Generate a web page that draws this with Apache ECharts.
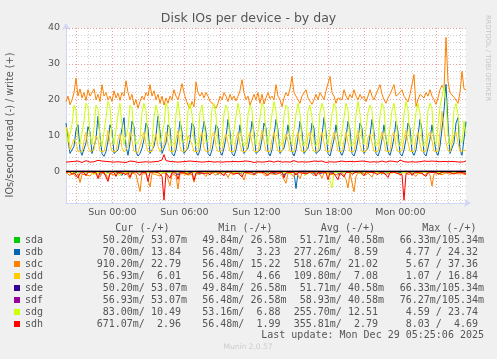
<!DOCTYPE html>
<html><head><meta charset="utf-8">
<script src="https://cdn.jsdelivr.net/npm/echarts@6/dist/echarts.min.js"></script>
<style>html,body{margin:0;padding:0;background:#f0f0f0}#c{width:497px;height:359px}</style>
</head><body><div id="c"></div>
<script>
// ---------- DATA ----------
const devices = ['sda','sdb','sdc','sdd','sde','sdf','sdg','sdh'];
const colors  = ['#00CC00','#0066B3','#FF8000','#FFCC00','#330099','#990099','#CCFF00','#FF0000'];
const startMin = -232;      // minutes relative to Sun 00:00 (Sat 20:08)
const endMin = 1768;        // Mon 05:28
const stepMin = 10;         // fine series sample step
const coarseStep = 100;     // near-zero series sample step
const xLabelValues = [0, 360, 720, 1080, 1440];
const xLabelTexts  = ['Sun 00:00','Sun 06:00','Sun 12:00','Sun 18:00','Mon 00:00'];
const yLabelValues = [0, 10, 20, 30, 40];

const sdcWrite = [19.5,21,18.6,20,22,26,21,23,20.5,22,
19.8,22.8,21,20.9,23,20,21.5,19.5,24.2,21,
22,20,21,19.5,22.5,20.5,21.8,19.8,22,21,
25.3,22,20,21.5,18.5,20,17.6,19.5,21,20,
22,21,24.2,21,22.5,20,21.5,19,21,18.5,
20.5,19,21,20,22.8,21,20,22,24.5,22,
20,18.5,17.6,19.5,18,25,22,21,22,20.5,
22,21,19.5,20,18.5,17.6,19,21,20,22,
21,19.5,21.5,20,21,19.7,21,22.5,25.6,22,
20,21,18.5,20,21.5,20,22,19,21.5,18.8,
20.5,22,20.3,21,20,24.2,21,20,18.1,20.5,
22,21,23,26.5,22,21,20,19,21,20.5,
22.8,20.5,21,18.7,20,21.5,20,22,21.7,20,
22.5,23,26.5,22,21,19,20.5,21,20,22.8,
21,20,21.5,20.5,22.8,21,20,21.5,20.3,21,
19.5,21,22.8,21,20,21.5,22,24.2,21.5,20,
19,20.5,21.5,22,24.2,21,20.5,22,22.8,21,
20.5,19.4,21.5,22,27,18.1,20,21.5,21.7,20.5,
22,21,22.8,21,20,18.7,20.5,22.8,24,23,
37.4,25,22,21.5,20.7,21,19,22,27.9,23,
22.79];
const sdgWrite = [12,8,7.5,13,18.5,17,9,7.5,7,14,
19,18,10,7.5,12,18.5,17.5,9,7,7.5,
15,19.5,18,9.5,7.5,8,16,19,13,7.5,
7,12,18.5,17.5,10,7.5,7,9,16.5,19,
17,8.5,7,8,15,18.5,16,8,7.5,13,
19,17.5,9,7,8,16,19.5,15,8,7.5,
9,17,19,16,8.5,7,8,16.5,18.5,14,
8,7.5,9.5,17.5,19,15.5,8,7,9,16,
18.5,17,9,7.5,8,15.5,19,16,8.5,7,
8,16,18.5,17,9,7.5,7.5,15,19,18,
10,7.5,8,16,19.5,17,9,7,8,15.5,
18.5,17.5,9,7.5,7.5,16,19,16,8.5,7,
8.5,17,18.5,15,8,7,9,16.5,19,17,
9,7.5,8,16,19,17.5,9.5,7,7.5,15,
19,17,8.5,7,8,16,19.5,16,9,7.5,
8,16.5,18.5,17,9,7,8,15.5,19,17.5,
9,7.5,8,17,19,15,8,7,9,16,
19.5,17,9,7.5,8,16.5,19,16,8.5,7,
8.5,17,19,17.5,9,7.5,8,18,21,23.7,
20,10,7.5,9,17,19,16,9,8,14,
10.49];
const sdbWrite = [13.5,9,5,4.5,7,11.5,13,6,4.5,5,
8,12.5,11,5,4.5,9,15.4,10,5,4.2,
5.5,8.5,13,11.5,5,4.5,6,9,12,15,
7,4.5,8,14,12.5,5.5,4.3,5,6.5,9,
13.5,12,5,4.5,7,10,15.5,11,5,4.5,
8,13,12,5,4.3,6,9.5,14,11,5,
4.5,6.5,9,13.5,12.5,5.5,4.5,6,10,14,
11,5,4.3,6,9,13,12,5.5,4.5,6.5,
9.5,14.5,11,5,4.3,6,9,13,12.5,5,
4.5,6.5,9.5,14,11,5,4.5,6,9,13.5,
12,5.5,4.3,6,10,14.5,11.5,5,4.5,6.5,
9,13,12.5,5.5,4.3,6,9.5,14,11,5,
4.5,6.5,9,13.5,12,5,4.5,6,10,15,
11,5,4.3,6.5,9,13,12.5,5.5,4.5,6,
9.5,14,11.5,5,4.3,6,9,13.5,12,5,
4.5,6.5,10,14.5,11,5,4.3,6,9,13,
12.5,5.5,4.5,6.5,9.5,14,11,5,4.3,6,
9,13.5,12,5.5,4.5,6,10,14.5,11.5,5,
4.3,6.5,9,13,12.5,5.5,4.5,7,12,17,
24.3,13,5,4.5,8,13.5,15,6,4.5,9,
13.84];
const sddWrite = [12.5,11,6,5.6,9,8,5.5,5.3,5.5,8.5,
11,7,5.5,5.4,6,10,9,5.6,5.3,5.5,
8,11.5,8,5.6,5.4,5.5,9,10.5,6.5,5.4,
5.3,7,11,8.5,5.6,5.4,5.3,5.8,9,11,
7.5,5.5,5.3,5.6,8.5,10.5,7,5.5,5.4,7.5,
11,8,5.6,5.3,5.5,9,11.5,7,5.5,5.4,
5.8,10,10.5,7.5,5.5,5.3,5.6,9.5,11,6.5,
5.5,5.4,6,10,11,7,5.5,5.3,5.8,9,
10.5,8,5.6,5.4,5.5,9,11,7.5,5.5,5.3,
5.6,9.5,11,8,5.6,5.4,5.5,8.5,11.5,8.5,
5.7,5.4,5.5,9,11,8,5.6,5.3,5.6,9,
10.5,8.5,5.6,5.4,5.5,9.5,11,7.5,5.5,5.3,
5.7,10,11,7,5.5,5.3,5.8,9.5,11,8,
5.6,5.4,5.6,9,11,8.5,5.7,5.3,5.5,8.5,
11,8,5.5,5.3,5.6,9,11.5,7.5,5.6,5.4,
5.6,9.5,10.5,8,5.6,5.3,5.6,9,11,8.5,
5.6,5.4,5.6,10,11,7,5.5,5.3,5.8,9,
11.5,8,5.6,5.4,5.6,9.5,11,7.5,5.5,5.3,
5.7,10,11,8.5,5.6,5.4,5.6,11,16.8,12,
8,6,5.4,5.6,10,11,8,5.6,5.4,5.8,
6.01];
const sdhWrite = [2.6,2.4,2.7,2.5,2.8,2.6,2.9,2.7,2.5,2.8,
3.0,2.7,2.6,2.9,2.7,2.8,3.1,2.7,2.9,2.6,
2.8,3.0,2.7,2.9,2.6,2.8,2.7,2.9,2.6,2.8,
2.5,2.7,2.9,2.6,2.8,2.7,2.5,2.8,2.6,2.9,
2.7,2.8,2.6,2.9,2.7,2.5,2.8,2.6,3.2,4.7,
3.0,2.6,2.8,2.5,2.7,2.9,2.6,2.8,2.7,2.5,
2.8,2.6,2.9,2.7,2.8,2.6,2.7,2.9,2.6,2.8,
2.7,2.5,2.8,2.9,2.6,2.8,2.7,2.9,2.6,2.8,
2.7,3.0,2.7,2.6,2.8,2.9,2.7,2.6,2.8,2.7,
2.9,2.6,2.8,2.7,2.5,2.8,2.7,2.9,2.6,2.8,
2.7,2.6,2.9,2.8,2.6,2.7,2.9,2.8,2.6,2.8,
2.7,2.9,2.6,2.8,3.0,2.7,2.6,2.8,2.7,2.9,
2.6,2.8,2.7,2.6,2.9,2.7,2.8,2.6,2.9,2.7,
2.5,2.8,2.7,2.9,2.6,2.8,2.7,2.6,2.9,2.8,
2.7,2.6,2.8,2.9,2.7,2.6,2.8,2.7,2.9,2.6,
2.8,2.7,2.6,2.9,2.7,2.8,2.6,2.7,2.9,2.8,
2.6,2.7,2.9,2.6,2.8,2.7,2.6,3.2,3.6,2.7,
2.9,2.6,2.8,2.7,2.9,2.6,2.8,2.7,2.6,2.9,
2.7,2.8,2.6,2.9,2.7,2.8,2.6,2.7,2.9,2.8,
2.6,2.7,2.5,2.8,2.6,2.7,2.9,2.6,2.8,2.7,
2.96];
const sdcRead = [0.3,0.5,1.2,0.4,0.8,1.5,0.6,3.1,0.8,0.3,
0.9,0.4,1.3,0.5,0.3,0.7,0.4,1.6,0.5,0.3,
0.8,2.2,0.6,0.4,1.0,1.5,0.4,0.3,0.6,0.9,
0.4,1.2,2.0,0.5,0.3,0.8,1.1,5.6,0.7,0.4,
0.6,1.0,4.3,0.6,0.3,0.9,0.4,1.3,0.5,0.7,
0.4,0.8,4.0,0.6,0.3,1.2,4.9,0.7,0.4,0.6,
0.3,1.0,0.5,0.8,3.0,0.6,0.4,0.9,0.3,0.5,
1.4,0.4,0.7,0.3,0.6,1.1,0.4,0.5,0.8,0.3,
0.6,1.7,0.5,0.4,0.9,0.3,0.6,0.4,1.2,2.4,
0.5,0.3,0.7,0.4,1.0,0.5,0.3,0.8,0.4,0.6,
1.3,0.5,0.4,0.7,0.3,0.9,0.5,0.4,1.1,0.6,
3.3,0.5,0.4,0.8,1.5,0.3,0.6,2.0,0.4,0.7,
0.5,0.9,0.3,0.6,1.2,0.4,0.5,0.8,1.9,0.4,
0.6,0.3,0.9,0.5,0.7,0.4,1.0,0.6,0.3,0.8,
2.2,4.6,0.5,0.9,5.67,1.4,0.4,0.7,0.3,0.6,
1.0,0.4,0.5,1.6,0.3,0.7,0.4,0.9,0.5,0.3,
0.8,1.3,0.4,0.6,0.3,0.7,0.5,1.1,0.4,0.6,
0.3,0.9,0.5,0.4,0.8,1.4,0.6,0.3,0.5,1.2,
0.7,0.4,1.0,4.1,0.7,0.4,0.6,0.3,0.9,0.5,
0.4,0.6,0.8,0.3,0.5,0.4,0.7,0.5,0.6,0.9,
0.91];
const sdhRead = [0.2,0.4,0.1,0.9,0.3,0.2,1.8,0.5,0.2,0.3,
1.2,0.2,0.4,0.1,0.6,0.3,2.0,0.2,0.4,0.3,
0.2,2.8,0.5,0.2,0.3,1.4,0.2,0.1,0.4,0.2,
0.9,0.3,1.6,0.2,0.4,0.1,0.3,1.1,0.2,0.5,
0.3,2.8,0.2,0.4,0.1,0.6,0.3,0.2,1.3,8.0,
0.4,0.2,1.9,0.3,0.2,0.5,2.2,0.3,0.1,0.4,
0.2,0.8,0.3,0.2,2.5,0.4,0.2,0.3,0.1,0.6,
0.2,0.4,1.0,0.2,0.3,0.1,0.5,0.2,0.3,1.2,
0.2,0.4,0.1,0.3,0.7,0.2,0.5,0.2,1.5,0.3,
0.2,0.4,0.1,0.3,0.9,0.2,0.4,0.2,0.6,0.3,
0.2,1.1,0.4,0.2,0.3,0.1,0.5,0.3,0.2,1.8,
0.4,0.2,0.3,0.6,0.2,1.0,0.3,0.2,0.4,0.1,
0.7,0.3,0.2,0.5,0.2,1.3,0.3,0.2,0.4,0.1,
0.3,2.3,0.4,0.2,0.6,0.3,2.3,0.4,0.1,1.5,
0.3,0.5,0.2,0.8,0.3,0.2,0.4,0.1,0.3,1.2,
0.2,0.4,0.2,0.6,0.3,0.2,0.9,0.3,0.1,0.4,
0.2,1.7,0.3,0.5,0.2,0.4,0.6,0.3,0.9,8.03,
0.6,0.3,0.2,1.1,0.4,0.2,0.3,0.1,0.5,0.3,
1.4,0.2,0.4,0.3,0.6,0.2,0.8,0.3,0.2,0.4,
0.1,0.5,0.3,0.2,0.7,0.4,0.2,0.6,0.3,0.5,
0.67];
const sdgRead = [0.1,0.2,0.4,0.1,0.2,0.8,0.1,0.3,0.2,0.1,
0.5,0.2,0.1,0.3,0.9,0.2,0.1,0.4,0.2,0.1,
0.3,0.6,0.1,0.2,0.1,0.4,0.2,1.2,0.1,0.3,
0.2,0.1,0.5,0.2,0.1,0.3,0.2,0.7,0.1,0.2,
0.4,0.1,0.2,0.3,0.1,0.9,0.2,0.1,0.3,0.2,
0.1,0.5,0.2,0.1,0.3,0.6,0.1,0.2,0.1,0.4,
0.2,0.1,0.8,0.2,0.1,0.3,0.2,0.1,0.5,0.2,
0.1,0.3,1.0,0.2,0.1,0.4,0.2,0.1,0.3,0.2,
0.6,0.1,0.2,0.3,0.1,0.2,0.5,0.1,0.2,0.3,
0.1,0.7,0.2,0.1,0.3,0.2,0.1,0.4,0.2,0.1,
0.3,0.9,0.2,0.1,0.3,0.2,0.1,0.5,0.2,0.1,
0.3,0.2,0.6,0.1,0.2,0.4,0.1,0.2,0.3,0.1,
1.1,0.2,0.1,0.3,0.2,0.1,0.4,0.2,0.1,0.3,
0.2,0.6,0.1,4.59,0.3,0.1,0.2,0.4,0.1,0.2,
0.3,0.1,0.5,0.2,0.1,0.3,0.2,0.1,0.8,0.2,
0.1,0.3,0.2,0.1,0.4,0.2,0.1,0.6,0.2,0.1,
0.3,0.2,0.1,0.5,0.2,0.1,0.3,0.9,0.2,0.1,
0.4,0.2,0.1,0.3,0.2,0.1,0.6,0.2,0.1,0.3,
0.2,0.1,0.4,0.2,0.1,0.3,0.2,0.1,0.5,0.2,
0.1,0.3,0.2,0.1,0.4,0.2,0.1,0.3,0.2,0.1,
0.083];
const sdbRead = [0.1,0.3,0.2,0.1,0.5,0.2,0.1,0.3,0.2,0.7,
0.1,0.2,0.3,0.1,0.2,0.4,0.1,0.9,0.2,0.1,
0.3,0.2,0.1,0.6,0.2,0.1,0.3,0.2,1.1,0.1,
0.2,0.4,0.1,0.2,0.3,0.1,0.5,0.2,0.1,0.3,
0.8,0.1,0.2,0.4,0.1,0.2,0.3,0.1,0.6,0.2,
0.1,0.3,0.2,0.1,0.4,0.2,1.0,0.1,0.3,0.2,
0.1,0.5,0.2,0.1,0.3,0.2,0.1,0.7,0.2,0.1,
0.3,0.2,0.1,0.4,0.2,0.1,0.9,0.2,0.1,0.3,
0.2,0.1,0.5,0.2,0.1,0.3,0.2,0.6,0.1,0.2,
0.4,0.1,0.2,0.3,0.1,0.8,0.2,0.1,0.3,0.2,
0.1,0.4,0.2,0.1,0.6,0.2,0.1,0.3,0.2,1.2,
0.1,0.2,0.3,0.1,0.2,4.77,0.3,0.1,0.2,0.4,
0.1,0.2,0.3,0.1,0.5,0.2,0.1,0.7,0.2,0.1,
0.3,0.2,0.1,0.4,0.2,0.1,0.3,0.9,0.1,0.2,
0.3,0.1,0.2,0.5,0.1,0.2,0.3,0.1,0.6,0.2,
0.1,0.3,0.2,0.1,0.4,0.2,0.1,0.3,0.8,0.1,
0.2,0.3,0.1,0.2,0.5,0.1,0.2,0.3,0.1,0.2,
0.7,0.1,0.2,0.3,0.1,0.4,0.2,0.1,0.3,0.2,
0.1,0.5,0.2,0.1,0.3,0.2,0.1,0.6,0.2,0.1,
0.3,0.2,0.1,0.4,0.2,0.1,0.3,0.2,0.1,0.3,
0.07];
const sddRead = [0.1,0.05,0.1,0.2,0.06,0.1,0.05,0.3,0.1,0.06,
0.1,0.05,0.2,0.1,0.06,0.1,0.4,0.05,0.1,0.06,
0.1,0.2,0.05,0.1,0.06,0.1,0.05,0.3,0.1,0.06,
0.1,0.05,0.1,0.2,0.06,0.1,0.05,0.1,0.06,0.5,
0.1,0.05,0.1,0.06,0.2,0.1,0.05,0.1,0.06,0.1,
0.3,0.05,0.1,0.06,0.1,0.05,0.2,0.1,0.06,0.1,
1.07,0.05,0.1,0.06,0.1,0.2,0.05,0.1,0.06,0.1,
0.05,0.3,0.1,0.06,0.1,0.05,0.1,0.2,0.06,0.1,
0.05,0.1,0.06,0.4,0.1,0.05,0.1,0.06,0.2,0.1,
0.05,0.1,0.06,0.1,0.3,0.05,0.1,0.06,0.1,0.05,
0.2,0.1,0.06,0.1,0.05,0.1,0.06,0.3,0.1,0.05,
0.1,0.06,0.2,0.1,0.05,0.1,0.06,0.1,0.5,0.05,
0.1,0.06,0.1,0.05,0.2,0.1,0.06,0.1,0.05,0.1,
0.06,0.3,0.1,0.05,0.1,0.06,0.2,0.1,0.05,0.1,
0.06,0.1,0.4,0.05,0.1,0.06,0.1,0.05,0.2,0.1,
0.06,0.1,0.05,0.1,0.06,0.3,0.1,0.05,0.1,0.06,
0.2,0.1,0.05,0.1,0.06,0.1,0.6,0.05,0.1,0.06,
0.1,0.05,0.2,0.1,0.06,0.1,0.05,0.1,0.06,0.3,
0.1,0.05,0.1,0.06,0.2,0.1,0.05,0.1,0.06,0.1,
0.3,0.05,0.1,0.06,0.1,0.05,0.2,0.1,0.06,0.1,
0.057];
const sdaWrite = [0.04,0.05,0.03,0.06,0.04,0.105,0.03,0.05,0.04,0.03,0.05,0.04,0.06,0.03,0.04,0.05,0.03,0.04,0.06,0.04,0.053];
const sdaRead  = [0.05,0.052,0.06,0.05,0.051,0.066,0.05,0.052,0.05,0.055,0.05,0.051,0.053,0.05,0.06,0.052,0.05,0.051,0.05,0.054,0.05];
const sdeWrite = [0.04,0.05,0.03,0.06,0.04,0.105,0.03,0.05,0.04,0.03,0.05,0.04,0.06,0.03,0.04,0.05,0.03,0.04,0.06,0.04,0.053];
const sdeRead  = [0.05,0.052,0.06,0.05,0.051,0.066,0.05,0.052,0.05,0.055,0.05,0.051,0.053,0.05,0.06,0.052,0.05,0.051,0.05,0.054,0.05];
const sdfWrite = [0.04,0.05,0.03,0.06,0.04,0.105,0.03,0.05,0.04,0.03,0.05,0.04,0.06,0.03,0.04,0.05,0.03,0.04,0.06,0.04,0.053];
const sdfRead  = [0.06,0.058,0.07,0.057,0.06,0.076,0.058,0.06,0.057,0.063,0.058,0.06,0.061,0.057,0.07,0.06,0.058,0.06,0.057,0.062,0.057];

// legend statistics (read / write)
const statHeaders = ['Cur (-/+)','Min (-/+)','Avg (-/+)','Max (-/+)'];
const statCur = ['50.20m/ 53.07m','70.00m/ 13.84 ','910.20m/ 22.79 ','56.93m/  6.01 ','50.20m/ 53.07m','56.93m/ 53.07m','83.00m/ 10.49 ','671.07m/  2.96 '];
const statMin = ['49.84m/ 26.58m','56.48m/  3.23 ','56.48m/ 15.22 ','56.48m/  4.66 ','49.84m/ 26.58m','56.48m/ 26.58m','53.16m/  6.88 ','56.48m/  1.99 '];
const statAvg = ['51.71m/ 40.58m','277.26m/  8.59 ','518.67m/ 21.02 ','109.80m/  7.08 ','51.71m/ 40.58m','58.93m/ 40.58m','255.70m/ 12.51 ','355.81m/  2.79 '];
const statMax = ['66.33m/105.34m','4.77 / 24.32 ','5.67 / 37.36 ','1.07 / 16.84 ','66.33m/105.34m','76.27m/105.34m','4.59 / 23.74 ','8.03 /  4.69 '];
const titleText = 'Disk IOs per device - by day';
const yName = 'IOs/second read (-) / write (+)';
const lastUpdate = 'Last update: Mon Dec 29 05:25:06 2025';
const muninVersion = 'Munin 2.0.57';
const watermark = 'RRDTOOL / TOBI OETIKER';

// ---------- BUILD ----------
const readData  = {sda:sdaRead, sdb:sdbRead, sdc:sdcRead, sdd:sddRead, sde:sdeRead, sdf:sdfRead, sdg:sdgRead, sdh:sdhRead};
const writeData = {sda:sdaWrite, sdb:sdbWrite, sdc:sdcWrite, sdd:sddWrite, sde:sdeWrite, sdf:sdfWrite, sdg:sdgWrite, sdh:sdhWrite};
const coarse = {sda:true, sde:true, sdf:true};
function toPoints(vals, step, sign){ return vals.map((v,i)=>[startMin + i*step, sign*v]); }

const FONT = '"DejaVu Sans", Verdana, sans-serif';
const MONO = '"DejaVu Sans Mono", monospace';
const TXT = '#555555';

// grid line tick values
const minorX = [], majorX = [], minorY = [], majorY = [];
for (let t = -180; t <= endMin; t += 60) ((t % 180 === 0) ? majorX : minorX).push(t);
for (let v = -8; v <= 40; v += 2) { if (v === 0) continue; ((v % 10 === 0) ? majorY : minorY).push(v); }
const dot = [1, 2];
const gridLines = [].concat(
  minorX.map(t => ({xAxis: t, lineStyle: {color: '#cfcfcf', type: dot, width: 1}})),
  minorY.map(v => ({yAxis: v, lineStyle: {color: '#cfcfcf', type: dot, width: 1}})),
  majorX.map(t => ({xAxis: t, lineStyle: {color: '#eea0a0', type: dot, width: 1}})),
  majorY.map(v => ({yAxis: v, lineStyle: {color: '#eea0a0', type: dot, width: 1}}))
);

const series = [{
  type: 'line', name: 'grid', data: [], silent: true,
  markLine: {silent: true, symbol: 'none', z: 1, animation: false, label: {show: false}, emphasis: {disabled: true}, data: gridLines}
}];
devices.forEach((d, k) => {
  const step = coarse[d] ? coarseStep : stepMin;
  const base = {type: 'line', name: d, showSymbol: false, symbol: 'none', color: colors[k],
    lineStyle: {width: 1, color: colors[k]}, emphasis: {disabled: true}, animation: false, z: 2};
  series.push(Object.assign({}, base, {data: toPoints(readData[d], step, -1)}));
  series.push(Object.assign({}, base, {data: toPoints(writeData[d], step, 1)}));
});
series.push({
  type: 'line', name: 'zero', data: [], silent: true,
  markLine: {silent: true, symbol: 'none', z: 6, animation: false, label: {show: false}, emphasis: {disabled: true},
    data: [{yAxis: 0, lineStyle: {color: '#000', type: 'solid', width: 1}}]}
});

const graphics = [];
graphics.push({type: 'text', x: 10, y: 125, rotation: Math.PI/2,
  style: {text: yName, font: '9.7px ' + FONT, fill: TXT, align: 'center', verticalAlign: 'middle'}});
graphics.push({type: 'text', x: 488, y: 58, rotation: -Math.PI/2,
  style: {text: watermark, font: '6.7px ' + FONT, fill: '#c4c4c4', align: 'center', verticalAlign: 'middle'}});
const headerRight = [169.5, 272.5, 375, 476.5];
statHeaders.forEach((h, j) => graphics.push({type: 'text', x: headerRight[j], y: 228,
  style: {text: h, font: '10px ' + MONO, fill: TXT, align: 'right', verticalAlign: 'middle'}}));
const colRight = [187, 286.5, 384, 484];
const cols = [statCur, statMin, statAvg, statMax];
devices.forEach((d, k) => {
  cols.forEach((c, j) => graphics.push({type: 'text', x: colRight[j], y: 240 + 12*k,
    style: {text: c[k], font: '10px ' + MONO, fill: TXT, align: 'right', verticalAlign: 'middle'}}));
});
graphics.push({type: 'text', x: 484, y: 335.5,
  style: {text: lastUpdate, font: '10px ' + MONO, fill: TXT, align: 'right', verticalAlign: 'middle'}});
graphics.push({type: 'text', x: 248, y: 347.5,
  style: {text: muninVersion, font: '7.5px ' + FONT, fill: '#cccccc', align: 'center', verticalAlign: 'middle'}});

const chart = echarts.init(document.getElementById('c'), null, {renderer: 'canvas'});
chart.setOption({
  animation: false,
  backgroundColor: '#f0f0f0',
  title: {text: titleText, left: 'center', top: 12, padding: 0,
    textStyle: {fontFamily: FONT, fontSize: 12.5, fontWeight: 'normal', color: TXT}},
  legend: {data: devices, orient: 'vertical', left: 14, top: 234, itemWidth: 6, itemHeight: 6, itemGap: 0,
    icon: 'rect', selectedMode: false, padding: 0,
    textStyle: {fontFamily: MONO, fontSize: 10, color: TXT, lineHeight: 12}},
  grid: {left: 66, right: 31, top: 28, bottom: 156, show: true, backgroundColor: '#ffffff', borderWidth: 0, containLabel: false},
  xAxis: {type: 'value', min: startMin, max: endMin,
    axisLine: {show: true, onZero: false, lineStyle: {color: '#cfd6f8', width: 1}, symbol: ['none', 'arrow'], symbolSize: [6, 7], symbolOffset: [0, 5]},
    axisTick: {show: false}, splitLine: {show: false},
    axisLabel: {customValues: xLabelValues, margin: 5, fontFamily: FONT, fontSize: 9.5, color: TXT,
      formatter: v => xLabelTexts[xLabelValues.indexOf(v)] || ''}},
  yAxis: {type: 'value', min: -8.8, max: 40,
    axisLine: {show: true, onZero: false, lineStyle: {color: '#cfd6f8', width: 1}, symbol: ['none', 'arrow'], symbolSize: [6, 7], symbolOffset: [0, 5]},
    axisTick: {show: false}, splitLine: {show: false},
    axisLabel: {customValues: yLabelValues, margin: 6, fontFamily: FONT, fontSize: 9.5, color: TXT}},
  series: series,
  graphic: graphics
});
</script>
</body></html>
